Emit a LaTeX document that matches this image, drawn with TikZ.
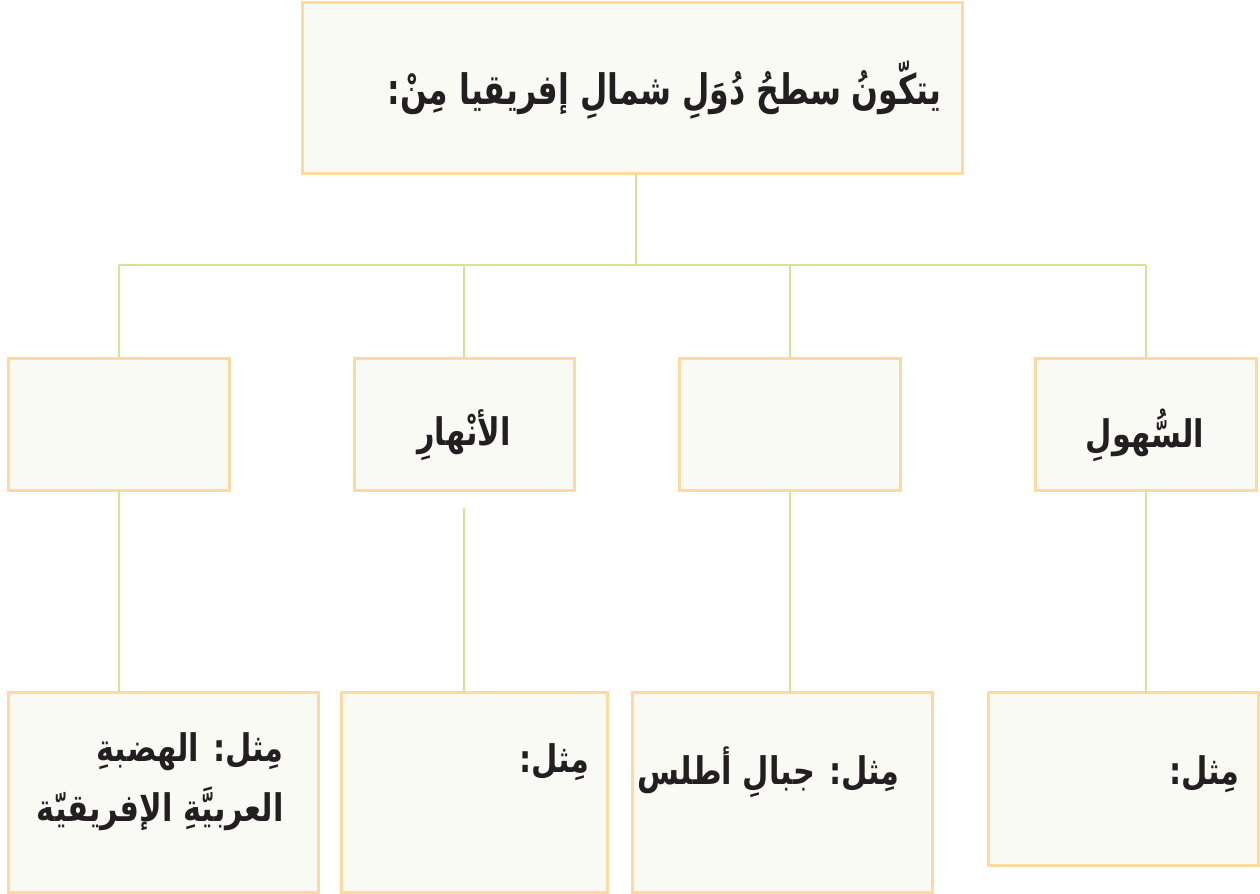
\documentclass[tikz,border=0pt]{standalone}
\usepackage{fontspec}
\newfontfamily\arabicfont[Script=Arabic,FakeStretch=0.8]{DejaVu Sans}
\newfontfamily\arabictopfont[Script=Arabic,FakeStretch=0.75]{DejaVu Sans}
\TeXXeTstate=1
\definecolor{boxborder}{RGB}{252,218,160}
\definecolor{boxfill}{RGB}{249,250,243}
\definecolor{linkcol}{RGB}{212,228,145}
\definecolor{ink}{RGB}{35,31,32}
\begin{document}
\begin{tikzpicture}[x=0.5pt,y=-0.5pt,
  box/.style={draw=boxborder,fill=boxfill,line width=1.5pt,inner sep=0pt,outer sep=0pt},
  link/.style={draw=linkcol,line width=1pt},
  lbl/.style={inner sep=0pt,font=\arabicfont\bfseries\fontsize{19}{30}\selectfont,text=ink},
  toplbl/.style={inner sep=0pt,font=\arabictopfont\bfseries\fontsize{21}{26}\selectfont,text=ink}]
\useasboundingbox (0,0) rectangle (1260,894);
% top
\node[box,minimum width=330pt,minimum height=85.5pt] (top) at (632,87.5) {};
\node[toplbl,anchor=east] (toptxt) at (942,90) {\beginR يتكّونُ سطحُ دُوَلِ شمالِ إفريقيا مِنْ:\endR};
% middle row
\node[box,minimum width=110.5pt,minimum height=66pt] (m1) at (118.5,424) {};
\node[box,minimum width=110pt,minimum height=66pt] (m2) at (464,424) {};
\node[box,minimum width=110.5pt,minimum height=66pt] (m3) at (789.5,424) {};
\node[box,minimum width=110.5pt,minimum height=66pt] (m4) at (1145.5,424) {};
\node[lbl] (m2txt) at (464,435) {\beginR الأنْهارِ\endR};
\node[lbl] (m4txt) at (1145,435) {\beginR السُّهولِ\endR};
% bottom row
\node[box,minimum width=155pt,minimum height=100pt] (b1) at (163,792) {};
\node[box,minimum width=133pt,minimum height=100pt] (b2) at (474,792) {};
\node[box,minimum width=150pt,minimum height=100pt] (b3) at (782,792) {};
\node[box,minimum width=135pt,minimum height=86.5pt] (b4) at (1123,778.5) {};
\node[lbl,align=right,anchor=east] (b1txt) at (284,782) {\beginR مِثل: الهضبةِ\endR\\\beginR العربيَّةِ الإفريقيّة\endR};
\node[lbl,anchor=east] (b2txt) at (590,762) {\beginR مِثل:\endR};
\node[lbl,anchor=east] (b3txt) at (900,772) {\beginR مِثل: جبالِ أطلس\endR};
\node[lbl,anchor=east] (b4txt) at (1240,774) {\beginR مِثل:\endR};
% connectors
\coordinate (bus) at (636,265);
\coordinate (g2) at (464,508);
\draw[link] (top.south -| bus) -- (bus);
\draw[link] (m1.north |- bus) -- (m4.north |- bus);
\draw[link] (m1.north) -- (m1.north |- bus);
\draw[link] (m2.north) -- (m2.north |- bus);
\draw[link] (m3.north) -- (m3.north |- bus);
\draw[link] (m4.north) -- (m4.north |- bus);
\draw[link] (m1.south) -- (b1.north -| m1.south);
\draw[link] (g2) -- (b2.north -| g2);
\draw[link] (m3.south) -- (b3.north -| m3.south);
\draw[link] (m4.south) -- (b4.north -| m4.south);
\end{tikzpicture}
\end{document}
